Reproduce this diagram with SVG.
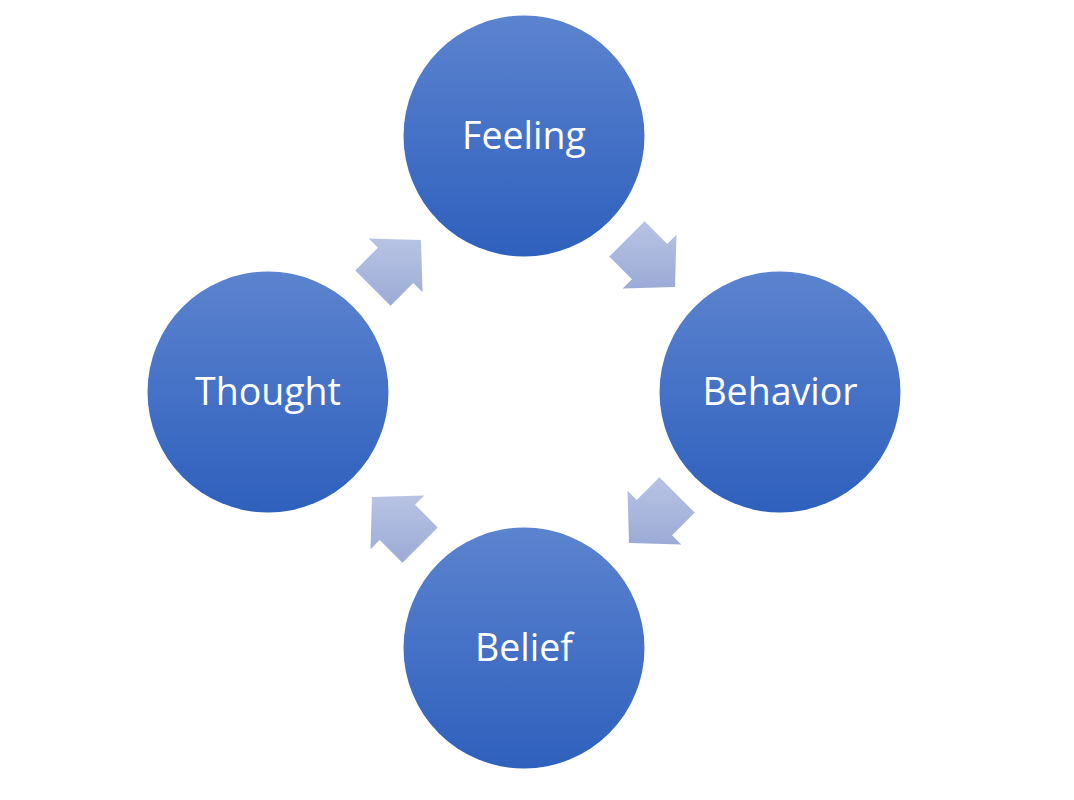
<svg xmlns="http://www.w3.org/2000/svg" width="1074" height="800" viewBox="0 0 1074 800">
  <defs>
    <linearGradient id="circ" x1="0" y1="0" x2="0" y2="1">
      <stop offset="0" stop-color="#5c83cf"/>
      <stop offset="1" stop-color="#2e60bd"/>
    </linearGradient>
    <linearGradient id="arr" x1="0" y1="0" x2="0" y2="1">
      <stop offset="0" stop-color="#b8c3e4"/>
      <stop offset="1" stop-color="#9cabd6"/>
    </linearGradient>
    <style>
      .node circle { fill: url(#circ); }
      .node text { fill: #ffffff; font-family: "Open Sans", "Noto Sans", "Liberation Sans", sans-serif; font-size: 37.5px; text-anchor: middle; }
      .conn polygon { fill: url(#arr); }
    </style>
  </defs>
  <rect width="1074" height="800" fill="#ffffff"/>
  <g id="connectors" class="conn">
    <polygon points="355.3,270.4 377.9,247.7 368.7,238.5 421,240 422.5,292.3 413.3,283.1 390.6,305.7"/>
    <polygon points="644.6,221.3 667.3,243.9 676.5,234.7 675,287 622.7,288.5 631.9,279.3 609.3,256.6"/>
    <polygon points="694.7,512.6 672.1,535.3 681.3,544.5 629,543 627.5,490.7 636.7,499.9 659.4,477.3"/>
    <polygon points="402.4,562.7 379.7,540.1 370.5,549.3 372,497 424.3,495.5 415.1,504.7 437.7,527.4"/>
  </g>
  <g id="feeling" class="node">
    <circle cx="524" cy="136" r="120.5"/>
    <text x="524" y="149">Feeling</text>
  </g>
  <g id="thought" class="node">
    <circle cx="268" cy="392" r="120.5"/>
    <text x="268" y="405">Thought</text>
  </g>
  <g id="behavior" class="node">
    <circle cx="780" cy="392" r="120.5"/>
    <text x="780" y="405">Behavior</text>
  </g>
  <g id="belief" class="node">
    <circle cx="524" cy="648" r="120.5"/>
    <text x="524" y="661">Belief</text>
  </g>
</svg>
